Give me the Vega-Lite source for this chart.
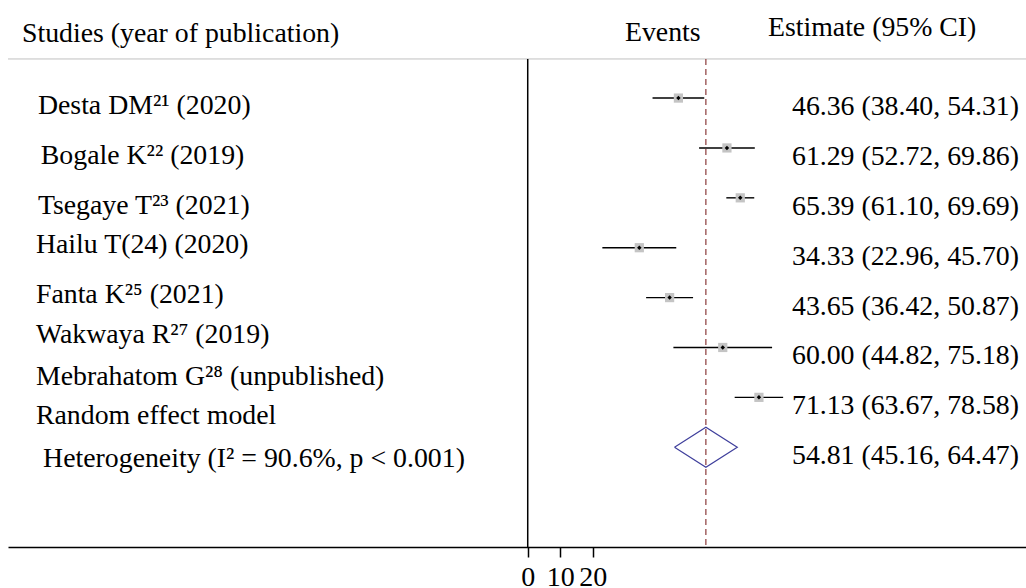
{
  "$schema": "https://vega.github.io/schema/vega-lite/v6.json",
  "width": 1018,
  "height": 547,
  "autosize": {"type": "none"},
  "padding": {"left": 8, "top": 0, "right": 0, "bottom": 41},
  "background": "white",
  "config": {
    "view": {"stroke": null},
    "font": "Liberation Serif",
    "text": {"font": "Liberation Serif", "fontSize": 27.8, "color": "black"}
  },
  "datasets": {
    "rows": [
      {"kind": "study", "row": 1, "est": 46.36, "lo": 38.40, "hi": 54.31, "ci": "46.36 (38.40, 54.31)"},
      {"kind": "study", "row": 2, "est": 61.29, "lo": 52.72, "hi": 69.86, "ci": "61.29 (52.72, 69.86)"},
      {"kind": "study", "row": 3, "est": 65.39, "lo": 61.10, "hi": 69.69, "ci": "65.39 (61.10, 69.69)"},
      {"kind": "study", "row": 4, "est": 34.33, "lo": 22.96, "hi": 45.70, "ci": "34.33 (22.96, 45.70)"},
      {"kind": "study", "row": 5, "est": 43.65, "lo": 36.42, "hi": 50.87, "ci": "43.65 (36.42, 50.87)"},
      {"kind": "study", "row": 6, "est": 60.00, "lo": 44.82, "hi": 75.18, "ci": "60.00 (44.82, 75.18)"},
      {"kind": "study", "row": 7, "est": 71.13, "lo": 63.67, "hi": 78.58, "ci": "71.13 (63.67, 78.58)"},
      {"kind": "summary", "row": 8, "est": 54.81, "lo": 45.16, "hi": 64.47, "ci": "54.81 (45.16, 64.47)"}
    ],
    "labels": [
      {"text": "Desta DM²¹ (2020)", "lx": -150.7, "lrow": 1.16},
      {"text": "Bogale K²² (2019)", "lx": -149.8, "lrow": 2.17},
      {"text": "Tsegaye T²³ (2021)", "lx": -150.7, "lrow": 3.16},
      {"text": "Hailu T(24) (2020)", "lx": -151.3, "lrow": 3.942},
      {"text": "Fanta K²⁵ (2021)", "lx": -151.3, "lrow": 4.95},
      {"text": "Wakwaya R²⁷ (2019)", "lx": -151.3, "lrow": 5.74},
      {"text": "Mebrahatom G²⁸ (unpublished)", "lx": -151.3, "lrow": 6.59},
      {"text": "Random effect model", "lx": -151.3, "lrow": 7.38},
      {"text": "Heterogeneity (I² = 90.6%, p < 0.001)", "lx": -149.1, "lrow": 8.23}
    ],
    "headers": [
      {"text": "Studies (year of publication)", "hx": -155.6, "hrow": -0.285},
      {"text": "Events", "hx": 29.9, "hrow": -0.295},
      {"text": "Estimate (95% CI)", "hx": 73.9, "hrow": -0.41}
    ],
    "diamond": [
      {"vx": 45.16, "vy": 8, "ord": 1},
      {"vx": 54.81, "vy": 7.6, "ord": 2},
      {"vx": 64.47, "vy": 8, "ord": 3},
      {"vx": 54.81, "vy": 8.4, "ord": 4},
      {"vx": 45.16, "vy": 8, "ord": 5}
    ]
  },
  "layer": [
    {
      "data": {"name": "rows"},
      "transform": [{"filter": "datum.kind === 'study'"}],
      "mark": {"type": "rule", "color": "black", "strokeWidth": 1.4},
      "encoding": {
        "x": {
          "field": "lo", "type": "quantitative",
          "scale": {"domain": [-159.9, 153.3], "nice": false, "zero": false},
          "axis": {
            "values": [0, 10, 20], "title": null, "grid": false,
            "domainColor": "black", "domainWidth": 1.5,
            "tickColor": "black", "tickWidth": 1.5, "tickSize": 10,
            "labelFont": "Liberation Serif", "labelFontSize": 28, "labelColor": "black",
            "labelPadding": 6, "labelOverlap": false, "labelFlush": false, "labelBound": false
          }
        },
        "x2": {"field": "hi"},
        "y": {
          "field": "row", "type": "quantitative",
          "scale": {"domain": [-0.966, 10], "reverse": true, "nice": false, "zero": false},
          "axis": null
        }
      }
    },
    {
      "data": {"values": [{}]},
      "mark": {"type": "rule", "color": "#c0c0c0", "strokeWidth": 1},
      "encoding": {
        "y": {"datum": 0.216, "type": "quantitative", "axis": null}
      }
    },
    {
      "data": {"values": [{}]},
      "mark": {"type": "rule", "color": "black", "strokeWidth": 1.5},
      "encoding": {
        "x": {"datum": 0, "type": "quantitative", "title": null},
        "y": {"datum": 0.216, "type": "quantitative", "axis": null},
        "y2": {"datum": 10}
      }
    },
    {
      "data": {"name": "rows"},
      "transform": [{"filter": "datum.kind === 'summary'"}],
      "mark": {"type": "rule", "color": "#8b3a3a", "strokeWidth": 1.2, "strokeDash": [6, 4]},
      "encoding": {
        "x": {"field": "est", "type": "quantitative", "title": null},
        "y": {"datum": 0.216, "type": "quantitative", "axis": null},
        "y2": {"datum": 10}
      }
    },
    {
      "data": {"name": "rows"},
      "transform": [{"filter": "datum.kind === 'study'"}],
      "mark": {"type": "point", "shape": "square", "filled": true, "color": "#c4c4c4", "size": 85, "strokeWidth": 0, "opacity": 1},
      "encoding": {
        "x": {"field": "est", "type": "quantitative", "title": null},
        "y": {"field": "row", "type": "quantitative", "axis": null}
      }
    },
    {
      "data": {"name": "rows"},
      "transform": [{"filter": "datum.kind === 'study'"}],
      "mark": {"type": "point", "shape": "diamond", "filled": true, "color": "black", "size": 20, "strokeWidth": 0, "opacity": 1},
      "encoding": {
        "x": {"field": "est", "type": "quantitative", "title": null},
        "y": {"field": "row", "type": "quantitative", "axis": null}
      }
    },
    {
      "data": {"name": "diamond"},
      "mark": {"type": "line", "color": "#3f3f9c", "strokeWidth": 1.2},
      "encoding": {
        "x": {"field": "vx", "type": "quantitative", "title": null},
        "y": {"field": "vy", "type": "quantitative", "axis": null},
        "order": {"field": "ord", "type": "quantitative"}
      }
    },
    {
      "data": {"name": "rows"},
      "mark": {"type": "text", "align": "left", "baseline": "middle", "dy": 9},
      "encoding": {
        "x": {"datum": 81.3, "type": "quantitative", "title": null},
        "y": {"field": "row", "type": "quantitative", "axis": null},
        "text": {"field": "ci"}
      }
    },
    {
      "data": {"name": "labels"},
      "mark": {"type": "text", "align": "left", "baseline": "middle"},
      "encoding": {
        "x": {"field": "lx", "type": "quantitative", "title": null},
        "y": {"field": "lrow", "type": "quantitative", "axis": null},
        "text": {"field": "text"}
      }
    },
    {
      "data": {"name": "headers"},
      "mark": {"type": "text", "align": "left", "baseline": "middle"},
      "encoding": {
        "x": {"field": "hx", "type": "quantitative", "title": null},
        "y": {"field": "hrow", "type": "quantitative", "axis": null},
        "text": {"field": "text"}
      }
    }
  ]
}
